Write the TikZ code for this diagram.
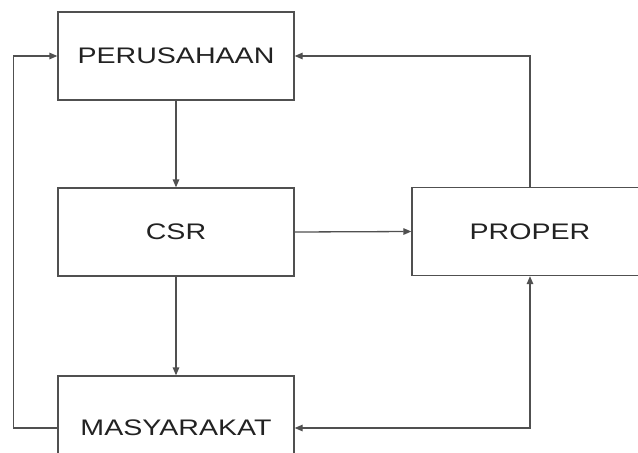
\documentclass[tikz,border=0pt]{standalone}
\usepackage{fontspec}
\setmainfont{Liberation Sans}
\newfontfamily\widefont[FakeStretch=1.27]{Liberation Sans}
\usetikzlibrary{arrows.meta}
\definecolor{ln}{HTML}{505050}
\definecolor{tx}{HTML}{222222}
\tikzset{
  box/.style={draw=ln, line width=1.3pt, fill=white, minimum width=236pt, minimum height=88pt,
    inner sep=0pt, text=tx, font=\widefont\fontsize{22.5}{26}\selectfont},
  arr/.style={draw=ln, line width=1.3pt, -{Triangle[length=8pt,width=6.5pt]}},
  arrboth/.style={draw=ln, line width=1.3pt, {Triangle[length=8pt,width=6.5pt]}-{Triangle[length=8pt,width=6.5pt]}}
}
\begin{document}
\begin{tikzpicture}[x=1pt,y=-1pt]
\useasboundingbox (0,0) rectangle (638,453);
\clip (0,0) rectangle (638,453);
\fill[white] (0,0) rectangle (638,453);
\node[box] (P) at (176,56) {PERUSAHAAN};
\node[box] (C) at (176,232) {CSR};
\node[box] (R) at (530,231.5) {PROPER};
\node[box, minimum height=104pt] (M) at (176,428) {MASYARAKAT};
\draw[arr] (P.south) -- (C.north);
\draw[arr] (C.south) -- (M.north);
\draw[arr] (C.east) -- (R.west);
\draw[arr] (R.north) |- (P.east);
\draw[arr] (M.west) -- ++(-44,0) |- (P.west);
\draw[arrboth] (M.east) -| (R.south);
\end{tikzpicture}
\end{document}
